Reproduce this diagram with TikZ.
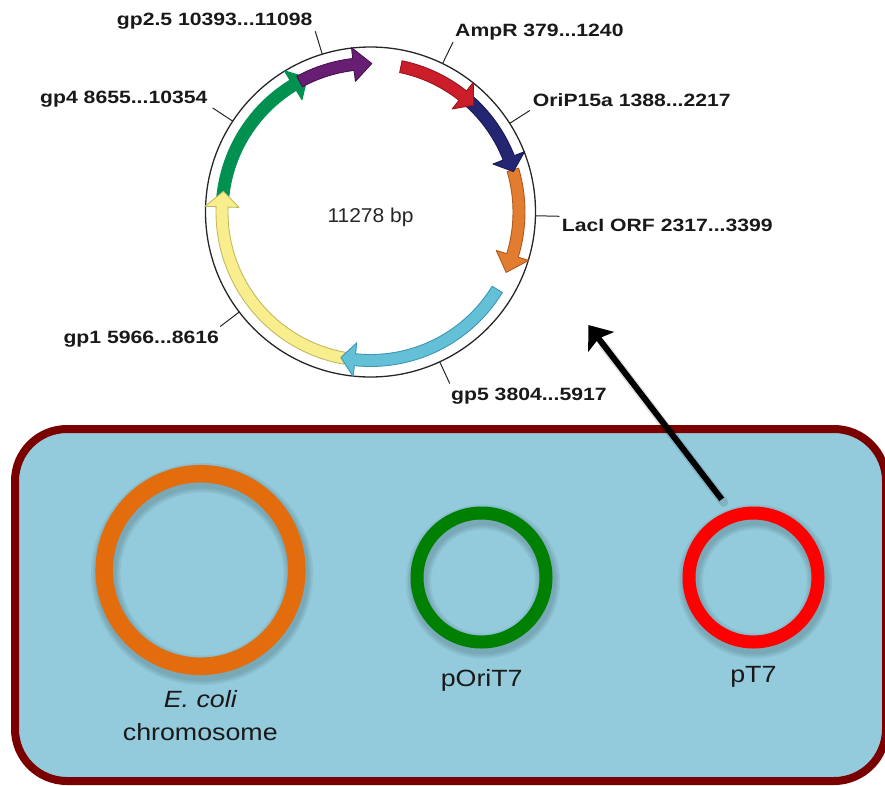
\documentclass[tikz,border=0pt]{standalone}
\usepackage{fontspec}
\setmainfont{Liberation Sans}
\newfontfamily\lblfont{Liberation Sans}[FakeStretch=1.19]
\newfontfamily\midfont{Liberation Sans}[FakeStretch=1.05]
\newfontfamily\cellfont{Liberation Sans}[FakeStretch=1.14]
\usetikzlibrary{arrows.meta,calc}

\definecolor{ampred}{RGB}{204,30,42}
\definecolor{ampredD}{RGB}{150,20,28}
\definecolor{orinavy}{RGB}{36,38,116}
\definecolor{orinavyD}{RGB}{24,26,80}
\definecolor{laciorange}{RGB}{226,124,48}
\definecolor{laciorangeD}{RGB}{176,90,30}
\definecolor{gpcyan}{RGB}{100,192,214}
\definecolor{gpcyanD}{RGB}{60,150,180}
\definecolor{gpyellow}{RGB}{249,238,142}
\definecolor{gpyellowD}{RGB}{196,184,94}
\definecolor{gpgreen}{RGB}{0,145,80}
\definecolor{gppurple}{RGB}{104,30,114}
\definecolor{gppurpleD}{RGB}{70,18,78}
\definecolor{cellfill}{RGB}{147,203,220}
\definecolor{cellwall}{RGB}{122,0,0}
\definecolor{chromo}{RGB}{227,108,12}
\definecolor{oriT}{RGB}{0,128,0}
\definecolor{pTred}{RGB}{255,0,0}

% band and arrow-head radii of the plasmid map
\def\ro{154.5}\def\ri{142.5}\def\rc{148.5}\def\ho{165.5}\def\hi{131.5}

% #1 fill, #2 outline, #3 start angle, #4 head base angle, #5 tip angle
% (angles clockwise from the top, in degrees)
\newcommand\featarrow[5]{%
  \filldraw[fill=#1, draw=#2, line width=0.9pt, line join=round]
    ({#3-90}:\ro) arc[start angle={#3-90}, end angle={#4-90}, radius=\ro]
    -- ({#4-90}:\ho) -- ({#5-90}:\rc) -- ({#4-90}:\hi) -- ({#4-90}:\ri)
    arc[start angle={#4-90}, end angle={#3-90}, radius=\ri] -- cycle;}

\tikzset{
  lbl/.style={font=\lblfont\bfseries\fontsize{17.8}{20}\selectfont, text=black!90, inner sep=0pt, anchor=base west},
  celltext/.style={font=\cellfont\fontsize{23.5}{26}\selectfont, text=black!90, inner sep=0pt, anchor=base},
  tick/.style={line width=1pt, black!85},
  ring/.style={circle, draw, inner sep=0pt, outer sep=0pt},
  ringshadow/.style={black, opacity=0.06},
}

\begin{document}
\begin{tikzpicture}[x=1pt, y=-1pt]
\useasboundingbox (0,0) rectangle (885,785);

% ---------- plasmid map ----------
\begin{scope}[shift={(370.5,212)}]
  \draw[line width=1.3pt, black!85] (0,0) circle[radius=165];
  % label ticks
  \foreach \a in {343, 25.9, 57.5, 91.3, 155.2, 232.7, 303.4}
    \draw[tick] ({\a-90}:165) -- ({\a-90}:189);
  % genes and origin
  \filldraw[fill=gpgreen, draw=gpgreen, line width=0.9pt, line join=round]
    ({275.5-90}:\ro) arc[start angle={275.5-90}, end angle={328.6-90}, radius=\ro]
    -- ({328.6-90}:\ho) -- ({334.8-90}:\rc) -- ({328.6-90}:\hi) -- ({328.6-90}:\ri)
    arc[start angle={328.6-90}, end angle={275.5-90}, radius=\ri] -- cycle;
  \featarrow{gppurple}{gppurpleD}{331.5}{353.4}{360.5}
  \featarrow{gpyellow}{gpyellowD}{190}{272}{278}
  \featarrow{gpcyan}{gpcyanD}{121.4}{186}{191.5}
  \featarrow{laciorange}{laciorangeD}{73.5}{107}{114}
  \featarrow{orinavy}{orinavyD}{42}{68.6}{74.2}
  \featarrow{ampred}{ampredD}{11.8}{38.4}{44}
\end{scope}
\node[font=\midfont\fontsize{20}{22}\selectfont, text=black!85, inner sep=0pt, anchor=base west] (size) at (327.3,222.7) {11278 bp};

% feature labels
\node[lbl] (lgpa) at (116.7,25)  {gp2.5 10393...11098};
\node[lbl] (lamp) at (455,36.7)  {AmpR 379...1240};
\node[lbl] (lgpb) at (40,103.5)  {gp4 8655...10354};
\node[lbl] (lori) at (532.7,106) {OriP15a 1388...2217};
\node[lbl] (llac) at (561.7,231.7) {LacI ORF 2317...3399};
\node[lbl] (lgpc) at (63.3,343.3) {gp1 5966...8616};
\node[lbl] (lgpd) at (451,400)   {gp5 3804...5917};

% ---------- host cell ----------
\draw[line width=8pt, draw=cellwall, fill=cellfill, rounded corners=52pt]
  (15,429) rectangle (886,781);

% soft shadows under the rings
\foreach \w in {4,8,12} {
  \draw[ringshadow, line width={17.5pt+\w pt}] (202,574) circle[radius=96.3];
  \draw[ringshadow, line width={13pt+\w pt}] (483,581.5) circle[radius=64.5];
  \draw[ringshadow, line width={13pt+\w pt}] (755,581.5) circle[radius=64.5];
}

\node[ring, draw=chromo, line width=17.5pt, minimum size=192.6pt] (ecoli) at (200.5,570) {};
\node[ring, draw=oriT, line width=13pt, minimum size=129pt] (pori) at (481.5,577.5) {};
\node[ring, draw=pTred, line width=13pt, minimum size=129pt] (pt) at (753.5,577.5) {};

\node[celltext] (ecolitxt) at (200.3,707.7) {\itshape E. coli};
\node[celltext] (chromtxt) at (200.3,740) {chromosome};
\node[celltext] (poritxt) at (481.7,686) {pOriT7};
\node[celltext] (pttxt) at (753.4,682.7) {pT7};

% pT7 is the mapped plasmid
\coordinate (arrTail) at (721.7,499.3);
\coordinate (arrTip) at (588.3,325);
\draw[black, opacity=0.12, line width=9pt, line cap=round] ([shift={(2,3)}]arrTail) -- ([shift={(2,3)}]$(arrTail)!0.9!(arrTip)$);
\draw[line width=6pt, -{Stealth[length=21pt, width=32pt, inset=4pt]}] (arrTail) -- (arrTip);
\end{tikzpicture}
\end{document}
